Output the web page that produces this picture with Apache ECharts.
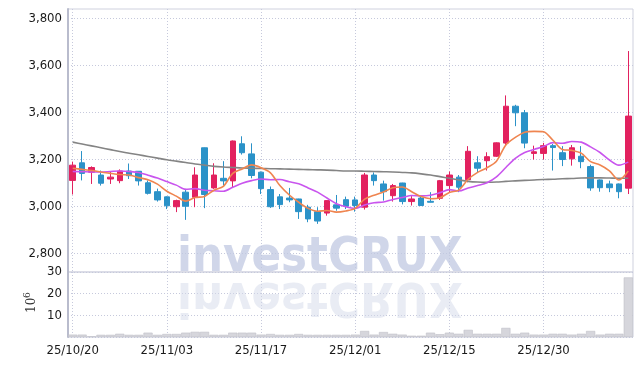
<!DOCTYPE html>
<html><head><meta charset="utf-8">
<script src="https://cdn.jsdelivr.net/npm/echarts@6/dist/echarts.min.js"></script>
<style>html,body{margin:0;padding:0;background:#fff}#c{width:642px;height:366px}</style>
</head><body><div id="c"></div>
<script>
const dates = ['25/10/20','25/10/21','25/10/22','25/10/23','25/10/24','25/10/27','25/10/28','25/10/29','25/10/30','25/10/31',
'25/11/03','25/11/04','25/11/05','25/11/06','25/11/07','25/11/10','25/11/11','25/11/12','25/11/13','25/11/14',
'25/11/17','25/11/18','25/11/19','25/11/20','25/11/21','25/11/24','25/11/25','25/11/26','25/11/27','25/11/28',
'25/12/01','25/12/02','25/12/03','25/12/04','25/12/05','25/12/08','25/12/09','25/12/10','25/12/11','25/12/12',
'25/12/15','25/12/16','25/12/17','25/12/18','25/12/19','25/12/22','25/12/23','25/12/24','25/12/26','25/12/29',
'25/12/30','26/01/02','26/01/05','26/01/06','26/01/07','26/01/08','26/01/09','26/01/12','26/01/13','26/01/14'];
const opens = [3110,3185,3145,3133,3116,3109,3150,3149,3100,3062,3040,2998,3060,3038,3249,3078,3119,3108,3266,3223,
3145,3071,3040,3035,3031,2996,2977,2971,3006,3028,3027,2996,3133,3095,3045,3099,3020,3035,3021,3034,
3088,3124,3113,3185,3194,3213,3269,3426,3398,3225,3225,3258,3228,3202,3213,3169,3112,3095,3095,3077];
const closes = [3175,3140,3165,3098,3124,3150,3130,3108,3055,3027,3002,3024,3000,3133,3050,3133,3108,3278,3228,3131,
3075,2998,3007,3027,2977,2946,2937,3024,2992,3000,3003,3133,3109,3062,3088,3020,3031,3003,3017,3109,
3133,3081,3234,3162,3211,3270,3426,3398,3269,3232,3258,3250,3199,3249,3190,3078,3079,3079,3062,3384];
const lows = [3050,3110,3095,3088,3095,3098,3116,3088,3050,3020,2988,2975,2942,2996,2992,3074,3088,3081,3220,3119,
3052,2993,2988,3017,2946,2932,2925,2960,2981,2988,2977,2986,3088,3024,3020,3008,3003,3003,3016,3027,
3060,3060,3102,3145,3152,3210,3261,3341,3247,3199,3199,3152,3171,3173,3162,3066,3062,3060,3034,3052];
const highs = [3190,3235,3170,3152,3148,3157,3182,3150,3110,3075,3042,3028,3074,3166,3250,3183,3192,3280,3298,3268,
3148,3084,3052,3078,3032,3006,2996,3025,3048,3041,3041,3142,3144,3109,3095,3100,3043,3042,3060,3112,
3148,3133,3256,3213,3230,3272,3472,3432,3410,3258,3270,3265,3256,3261,3256,3177,3114,3109,3097,3661];
const ma5 = [3162,3157,3152,3146,3140,3135,3133,3122,3113,3094,3064,3043,3022,3037,3042,3068,3085,3140,3159,3176,
3164,3142,3088,3048,3017,2991,2979,2982,2975,2980,2991,3030,3047,3061,3079,3082,3062,3041,3032,3036,
3059,3069,3115,3144,3164,3192,3261,3293,3315,3319,3317,3281,3242,3238,3226,3190,3176,3151,3112,3150];
const ma10 = [3148,3147,3146,3146,3148,3150,3148,3144,3132,3120,3105,3090,3072,3075,3068,3066,3064,3081,3098,3109,
3116,3113,3114,3104,3096,3078,3060,3035,3011,2998,2991,3005,3015,3018,3029,3037,3046,3044,3047,3058,
3071,3065,3078,3088,3100,3125,3165,3204,3229,3242,3254,3271,3268,3276,3273,3253,3229,3197,3175,3188];
const ma60 = [3273,3265,3257,3249,3241,3233,3226,3219,3212,3205,3198,3192,3186,3180,3175,3170,3167,3165,3163,3162,
3161,3160,3159,3158,3157,3156,3155,3154,3152,3150,3150,3149,3148,3147,3146,3144,3142,3138,3133,3126,
3119,3112,3106,3103,3102,3103,3106,3108,3110,3112,3114,3115,3117,3118,3120,3121,3121,3120,3119,3119];
const volumes = [1.1,1.1,0.3,1.0,1.0,1.5,1.0,1.0,2.0,1.0,1.4,1.4,2.0,2.4,2.4,1.0,1.0,2.0,2.0,2.0,
1.1,1.4,1.0,1.0,1.4,1.0,1.0,1.0,1.0,1.0,1.1,2.8,1.1,2.3,1.5,1.1,0.6,0.6,2.0,1.3,
2.0,1.5,3.3,1.5,1.5,1.5,4.2,1.5,2.0,1.1,1.1,1.5,1.5,1.1,1.5,2.8,1.1,1.5,1.5,27.5];
const priceTicks = [2800,3000,3200,3400,3600,3800];

const FONT = "'DejaVu Sans Condensed',sans-serif";
const RED = '#e2215f', BLUE = '#2b92c8';
const gridLine = {show:true, lineStyle:{color:'#c6c9dc', type:[1,2], width:1}};
const chart = echarts.init(document.getElementById('c'), null, {renderer:'canvas'});
const candleData = dates.map((d,i)=>[opens[i],closes[i],lows[i],highs[i]]);
const xCommon = {
  type:'category', data:dates, boundaryGap:true,
  axisLine:{show:false}, axisTick:{show:false, alignWithLabel:true, interval:9},
  splitLine:Object.assign({interval:9, alignWithLabel:true}, gridLine)
};
const labelStyle = {color:'#1a1a1a', fontFamily:FONT, fontSize:13};
chart.setOption({
  animation:false,
  backgroundColor:'#fff',
  grid:[
    {left:68, right:9, top:9, height:263, show:true, borderColor:'#cfd1de', borderWidth:1},
    {left:68, right:9, top:272, height:65, show:true, borderColor:'#cfd1de', borderWidth:1}
  ],
  xAxis:[
    Object.assign({gridIndex:0, axisLabel:{show:false, interval:9}}, xCommon),
    Object.assign({gridIndex:1, axisLabel:Object.assign({show:true, interval:9, margin:7}, labelStyle)}, xCommon)
  ],
  yAxis:[
    {type:'value', gridIndex:0, min:2720, max:3840, scale:true,
     axisLine:{show:true, lineStyle:{color:'#b9bccd', width:2}},
     axisTick:{show:false, customValues:priceTicks},
     axisLabel:Object.assign({customValues:priceTicks, margin:6,
       formatter:v=>v.toLocaleString('en-US')}, labelStyle),
     splitLine:gridLine},
    {type:'value', gridIndex:1, min:0, max:30, interval:10,
     axisLine:{show:true, lineStyle:{color:'#b9bccd', width:2}},
     axisTick:{show:false},
     axisLabel:Object.assign({margin:6, formatter:v=>v===0?'':String(v)}, labelStyle),
     splitLine:gridLine}
  ],
  graphic:[
    {type:'text', x:177, y:234, z:1, silent:true,
     style:{text:'investCRUX', font:"bold 48.5px "+FONT, fill:'rgba(192,200,225,0.75)'}},
    {type:'text', x:177, y:234, z:1, silent:true, scaleY:-1, originX:0, originY:43,
     style:{text:'investCRUX', font:"bold 48.5px "+FONT, fill:'rgba(212,217,234,0.5)'}},
    {type:'text', x:38, y:313, rotation:Math.PI/2, silent:true,
     style:{text:'10', font:"12px 'DejaVu Serif',serif", fill:'#333', align:'left', verticalAlign:'bottom'}},
    {type:'text', x:32, y:298, rotation:Math.PI/2, silent:true,
     style:{text:'6', font:"9px 'DejaVu Serif',serif", fill:'#333', align:'left', verticalAlign:'bottom'}}
  ],
  series:[
    {type:'candlestick', xAxisIndex:0, yAxisIndex:0, data:candleData, barWidth:6, z:3,
     itemStyle:{color:RED, color0:BLUE, borderColor:RED, borderColor0:BLUE, borderWidth:1}},
    {type:'line', xAxisIndex:0, yAxisIndex:0, data:ma60, showSymbol:false, smooth:0.3, z:4,
     lineStyle:{color:'#848484', width:1.6}},
    {type:'line', xAxisIndex:0, yAxisIndex:0, data:ma10, showSymbol:false, smooth:0.3, z:4,
     lineStyle:{color:'#c955ee', width:1.6}},
    {type:'line', xAxisIndex:0, yAxisIndex:0, data:ma5, showSymbol:false, smooth:0.3, z:4,
     lineStyle:{color:'#ef8550', width:1.6}},
    {type:'bar', xAxisIndex:1, yAxisIndex:1, data:volumes, barCategoryGap:'3%', z:3,
     itemStyle:{color:'#d6d6dc', borderColor:'#bfbfc7', borderWidth:0.6}}
  ]
});
</script></body></html>
